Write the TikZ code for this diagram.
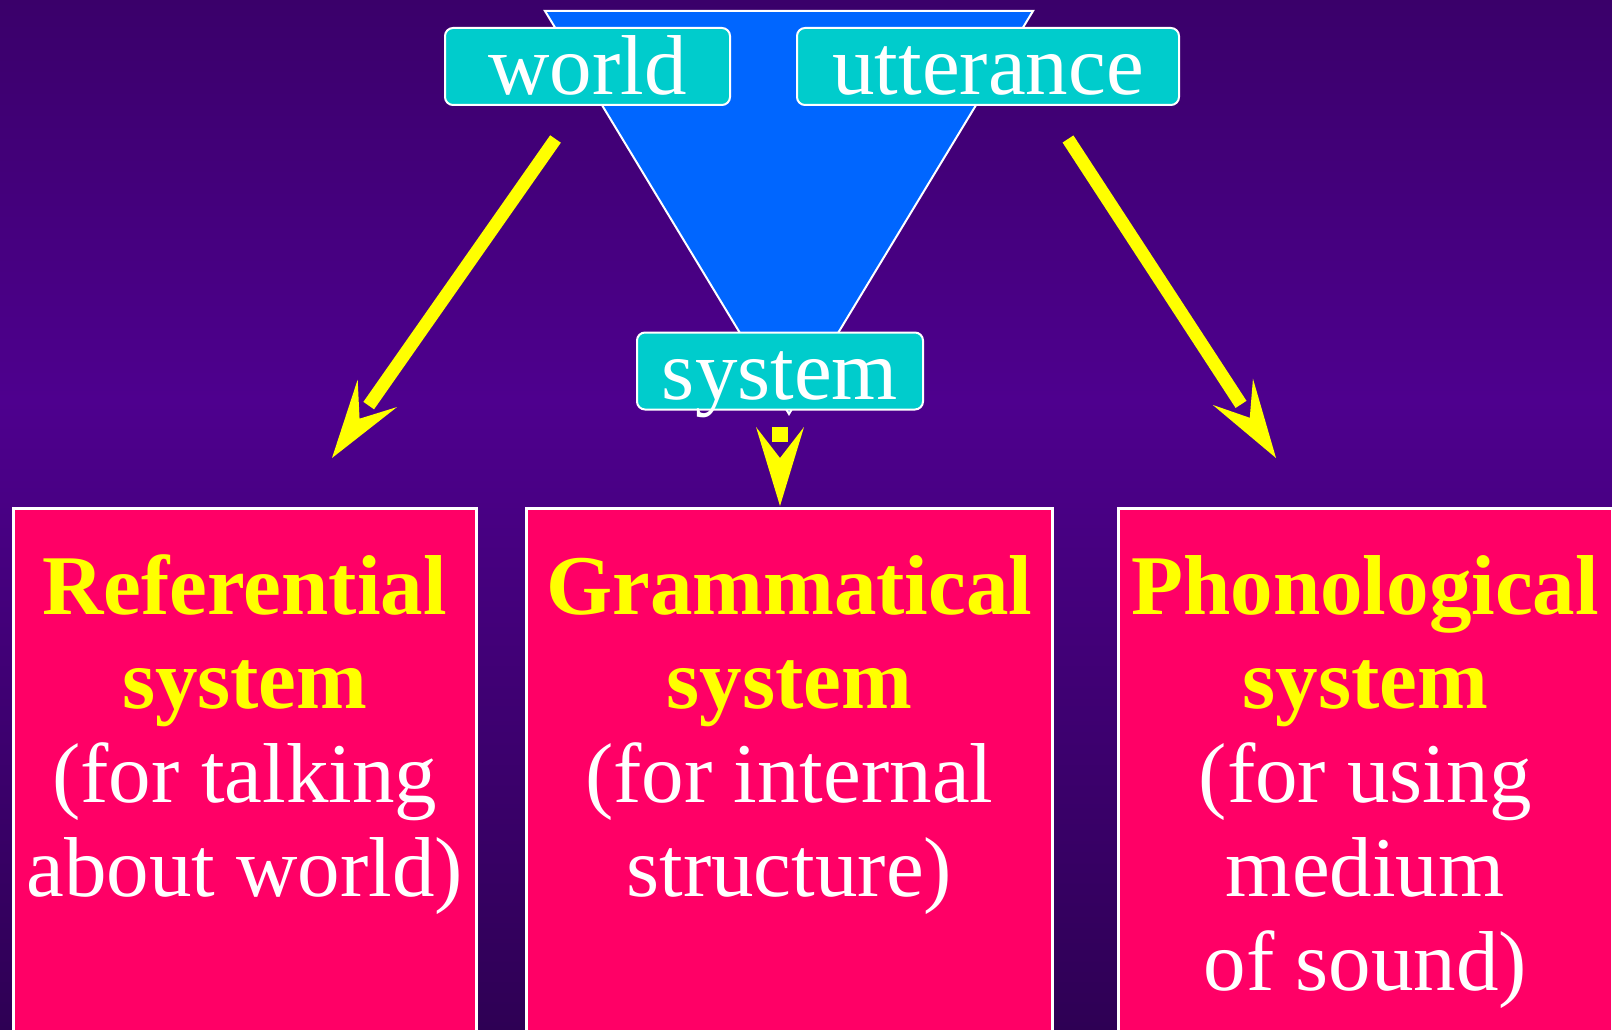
\documentclass[tikz,border=0pt]{standalone}
\usepackage{fontspec}
\setmainfont{Liberation Serif}
\usetikzlibrary{calc}
\definecolor{bgtop}{RGB}{58,0,106}
\definecolor{bgmid}{RGB}{78,0,142}
\definecolor{bgbot}{RGB}{46,0,84}
\definecolor{pinkc}{RGB}{255,0,102}
\definecolor{cyanc}{RGB}{0,204,204}
\definecolor{bluec}{RGB}{0,102,255}
\definecolor{yel}{RGB}{255,255,0}
\newcommand\yarrow[3]{%
  \coordinate (#2-b) at ($(#2)!79pt!(#1)$);
  \coordinate (#2-n) at ($(#2)!48pt!(#1)$);
  \coordinate (#2-e) at ($(#2)!64pt!(#1)$);
  \draw[shaft, line width=#3] (#1) -- (#2-e);
  \fill[yel] (#2) -- ($(#2-b)!24pt!90:(#2)$) -- (#2-n) -- ($(#2-b)!24pt!-90:(#2)$) -- cycle;}
\begin{document}
\begin{tikzpicture}[x=1pt,y=-1pt,
  lbl/.style={draw=white, line width=2pt, fill=cyanc, rounded corners=8pt, text=white,
    inner sep=0pt, text height=67pt, text depth=10pt, font=\fontsize{85}{90}\selectfont},
  pinkbox/.style={draw=white, line width=2.5pt, fill=pinkc, inner sep=0pt, anchor=north west,
    minimum height=560pt},
  boxtext/.style={align=center, anchor=north, inner sep=0pt, text=white,
    font=\fontsize{85}{94}\selectfont},
  shaft/.style={draw=yel}]
\useasboundingbox (0,0) rectangle (1612,1030);
\clip (0,0) rectangle (1612,1030);
% background
\shade[top color=bgtop, bottom color=bgmid] (-1,-1) rectangle (1613,400);
\shade[top color=bgmid, bottom color=bgbot] (-1,399) rectangle (1613,1031);
% funnel
\draw[draw=white, line width=2pt, fill=bluec] (545,11) -- (1033,11) -- (789,414) -- cycle;
% labels
\node[lbl, minimum width=285pt] (world) at (587.5,66.5) {world};
\node[lbl, minimum width=382pt] (utt) at (988,66.5) {utterance};
\node[lbl, minimum width=286pt] (sys) at (780,371) {system};
% boxes
\node[pinkbox, minimum width=463pt] (refbox) at (12,507) {};
\node[pinkbox, minimum width=526pt] (grambox) at (525,507) {};
\node[pinkbox, minimum width=494pt] (phonbox) at (1117,507) {};
\node[boxtext] (reftext) at ($(refbox.north)+(0,45)$)
  {\rule{0pt}{62pt}{\bfseries\color{yel}Referential}\\{\bfseries\color{yel}system}\\(for talking\\about world)};
\node[boxtext] (gramtext) at ($(grambox.north)+(0,45)$)
  {\rule{0pt}{62pt}{\bfseries\color{yel}Grammatical}\\{\bfseries\color{yel}system}\\(for internal\\structure)};
\node[boxtext] (phontext) at ($(phonbox.north)+(0,45)$)
  {\rule{0pt}{62pt}{\bfseries\color{yel}Phonological}\\{\bfseries\color{yel}system}\\(for using\\medium\\of sound)};
% arrows
\coordinate (wS) at (555.5,139);
\coordinate (refT) at (332,458);
\coordinate (uS) at (1068,139);
\coordinate (phonT) at (1276,458);
\coordinate (sS) at (780,427);
\coordinate (gramT) at (780,506);
\yarrow{wS}{refT}{13pt}
\yarrow{uS}{phonT}{13pt}
\yarrow{sS}{gramT}{16pt}
\end{tikzpicture}
\end{document}
